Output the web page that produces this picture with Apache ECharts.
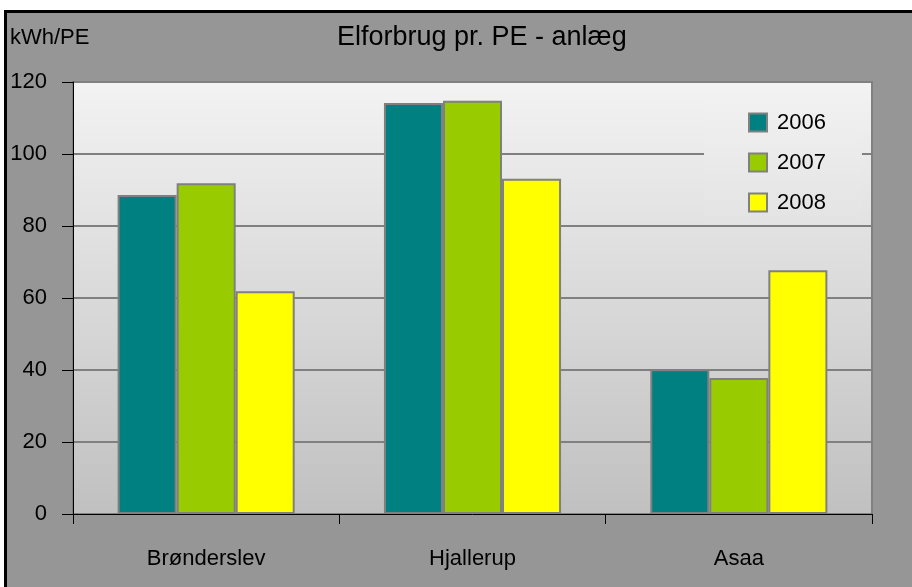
<!DOCTYPE html>
<html><head><meta charset="utf-8">
<script src="https://cdn.jsdelivr.net/npm/echarts@6/dist/echarts.min.js"></script>
<style>
html,body{margin:0;padding:0;background:#fff;width:912px;height:587px;overflow:hidden}
#frame{position:absolute;left:4px;top:10px;width:920px;height:600px;box-sizing:border-box;border-left:3px solid #000;border-top:3px solid #000;background:#969696}
#c{position:absolute;left:0;top:0;width:912px;height:587px}
</style></head>
<body>
<div id="frame"></div>
<div id="c"></div>
<script>
const categories = ["Brønderslev", "Hjallerup", "Asaa"];
const seriesNames = ["2006", "2007", "2008"];
const values2006 = [88.6, 114.2, 40.2];
const values2007 = [91.9, 114.8, 37.8];
const values2008 = [61.9, 93.1, 67.7];
const yTicks = [0, 20, 40, 60, 80, 100, 120];
const colors = ["#008080", "#99cc00", "#ffff00"];
const FONT = '"Liberation Sans", Arial, sans-serif';

const chart = echarts.init(document.getElementById('c'), null, {renderer: 'canvas'});
const allValues = [values2006, values2007, values2008];
chart.setOption({
  backgroundColor: 'transparent',
  animation: false,
  color: colors,
  title: {
    text: 'Elforbrug pr. PE - anlæg',
    left: 337, top: 24, padding: 0,
    textStyle: {fontFamily: FONT, fontSize: 27, fontWeight: 'normal', color: '#000', lineHeight: 27}
  },
  graphic: [{
    type: 'text', left: 10, top: 27,
    style: {text: 'kWh/PE', fontFamily: FONT, fontSize: 22, fill: '#000'}
  }],
  grid: {
    left: 73, top: 82, right: 40, bottom: 73, containLabel: false,
    show: true,
    backgroundColor: new echarts.graphic.LinearGradient(0, 0, 0, 1, [
      {offset: 0, color: '#f3f3f3'}, {offset: 1, color: '#c0c0c0'}
    ]),
    borderColor: '#808080', borderWidth: 2
  },
  legend: {
    orient: 'vertical', left: 704, top: 100,
    padding: [11.5, 36, 11, 44],
    itemWidth: 18, itemHeight: 18, itemGap: 18,
    icon: 'rect',
    backgroundColor: new echarts.graphic.LinearGradient(0, 0, 0, 1, [
      {offset: 0, color: '#f1f1f1'}, {offset: 1, color: '#e3e3e3'}
    ]),
    itemStyle: {borderColor: '#808080', borderWidth: 2},
    textStyle: {fontFamily: FONT, fontSize: 22, color: '#000', padding: [0, 0, 0, 5]},
    data: seriesNames
  },
  xAxis: {
    type: 'category', data: categories,
    axisLine: {lineStyle: {color: '#000', width: 1}},
    axisTick: {show: true, length: 10, lineStyle: {color: '#000'}},
    axisLabel: {fontFamily: FONT, fontSize: 22, color: '#000', margin: 34}
  },
  yAxis: {
    type: 'value', min: yTicks[0], max: yTicks[yTicks.length - 1], interval: 20,
    axisLine: {show: true, lineStyle: {color: '#000', width: 1}},
    axisTick: {show: true, length: 11, lineStyle: {color: '#000'}},
    axisLabel: {fontFamily: FONT, fontSize: 22, color: '#000', margin: 26},
    splitLine: {show: true, lineStyle: {color: '#808080', width: 2}}
  },
  series: seriesNames.map((name, i) => ({
    name: name, type: 'bar', data: allValues[i],
    barGap: '0%', barCategoryGap: '33.5%',
    itemStyle: {color: colors[i], borderColor: '#808080', borderWidth: 2}
  }))
});
</script>
</body></html>
